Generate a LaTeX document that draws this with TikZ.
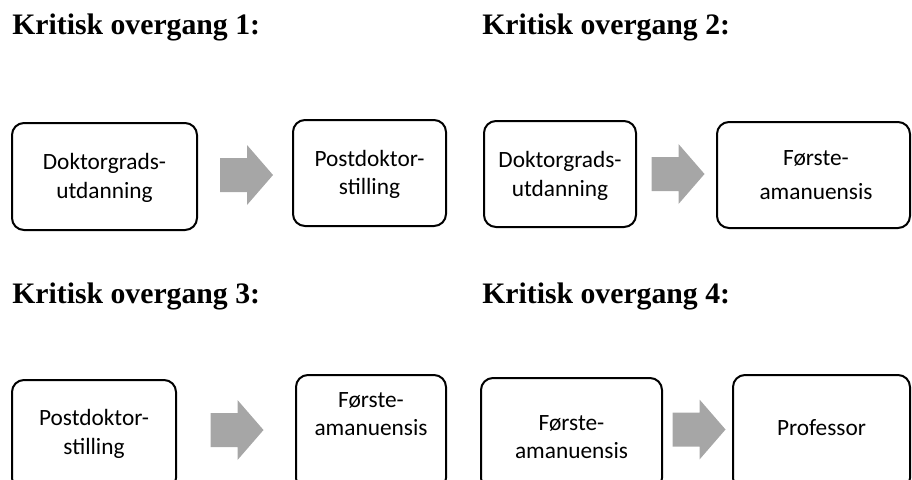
\documentclass[tikz,border=0pt]{standalone}
\usepackage{fontspec}
\setmainfont{Liberation Serif}
\newfontfamily\boxfont{Carlito}
\newlength\px
\setlength\px{0.75pt}
\definecolor{pilgrey}{HTML}{A6A6A6}

\begin{document}
\begin{tikzpicture}[x=\px,y=-\px]
\tikzset{box/.style = {draw, line width=2\px, rounded corners=12\px, inner sep=0pt}}
\tikzset{txt/.style = {align=center, inner sep=0pt, font=\boxfont\fontsize{17.5}{21.5}\selectfont}}
\tikzset{pil/.style = {fill=pilgrey, draw=none}}
\tikzset{heading/.style = {anchor=base west, inner sep=0pt, font=\bfseries\fontsize{22.3}{26}\selectfont}}

\useasboundingbox (0,0) rectangle (912,479);
\clip (0,0) rectangle (912,479);

\foreach \pos/\name/\nr in {{(12,34)}/h1/1, {(482,34)}/h2/2, {(12,303)}/h3/3, {(482,303)}/h4/4}
\node[heading] (\name) at \pos {Kritisk overgang \nr:};

% the frames, bottom row runs off the page
\foreach \pos/\name/\w/\h in {{(104.5,176.5)}/b1/185/107, {(369.5,173)}/b2/153/106, {(560,174)}/b3/152/106, {(813.5,175)}/b4/193/106,
  {(94,435)}/b5/164/110, {(371,432.5)}/b6/150/115, {(571.5,434)}/b7/181/112, {(821.5,432.5)}/b8/177/115}
\node[box, minimum width=\w\px, minimum height=\h\px] (\name) at \pos {};

\foreach \pos/\name/\txt in {{(104.5,178)}/t1/{Doktorgrads-\\utdanning}, {(369.5,174.5)}/t2/{Postdoktor-\\stilling},
  {(560,176)}/t3/{Doktorgrads-\\utdanning}, {(816,175)}/t4/{Første-\\[4pt]amanuensis},
  {(94,434)}/t5/{Postdoktor-\\stilling}, {(371,414)}/t6/{Første-\\amanuensis},
  {(571.5,437)}/t7/{Første-\\amanuensis}, {(821.5,427.5)}/t8/{Professor}}
\node[txt] (\name) at \pos {\txt};

% block arrows between the frames
\foreach \pos/\name in {{(246.5,175)}/a1, {(678,174)}/a2, {(237,430)}/a3, {(699,429.5)}/a4}{
\path \pos coordinate (\name);
\fill[pil] (\name) ++(-26.5,-17) -- ++(27,0) -- ++(0,-13) -- ++(26,30) -- ++(-26,30) -- ++(0,-13) -- ++(-27,0) -- cycle;
}

\end{tikzpicture}
\end{document}
